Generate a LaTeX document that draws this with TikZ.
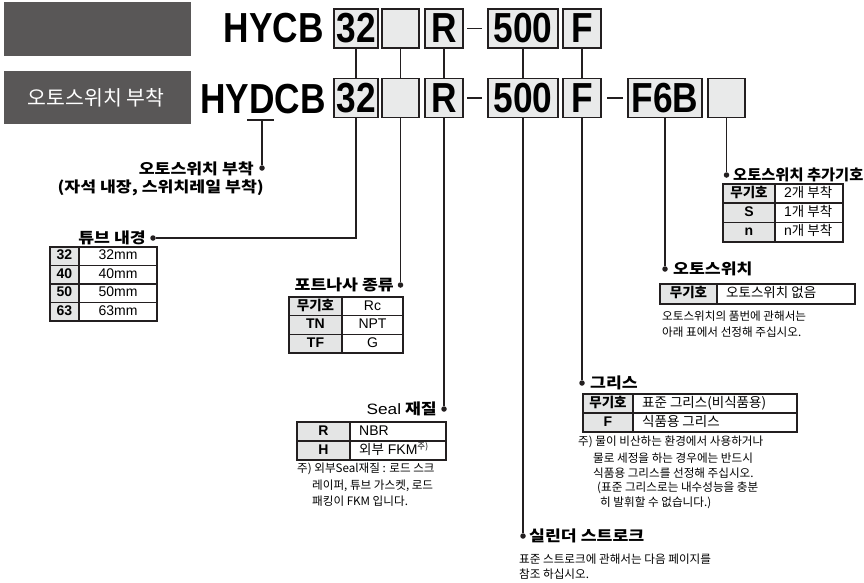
\documentclass[tikz,border=0pt]{standalone}
\usepackage{fontspec}
\setmainfont{Liberation Sans}
\newfontfamily\kr{Noto Sans CJK KR}
\definecolor{banner}{HTML}{595757}
\definecolor{boxgray}{HTML}{E9EAEA}
\definecolor{hdrgray}{HTML}{E4E5E5}
\definecolor{ink}{HTML}{231F20}
\newcommand\cond[1]{\scalebox{0.84}[1]{#1}}
\newcommand\hd[1]{\scalebox{1.15}[1]{#1}}
\newcommand\codef{\fontsize{42}{42}\selectfont\bfseries}
\newcommand\headf{\kr\fontsize{15}{16}\selectfont\bfseries}
\newcommand\notef{\kr\fontsize{11.6}{14}\selectfont}
\newcommand\cellf{\fontsize{14}{15}\selectfont}
\newcommand\cellk{\kr\fontsize{13.5}{15}\selectfont}
% table row: x1 xm x2 y1 y2 left right name ; right text centred
\newcommand\trowc[8]{%
  \fill[hdrgray] (#1,#4) rectangle (#2,#5);
  \draw[tline] (#1,#4) rectangle (#3,#5) (#2,#4) -- (#2,#5);
  \node[cell,font=\cellf\bfseries] (#8l) at ({(#1+#2)/2},{(#4+#5)/2}) {#6};
  \node[cell,font=\cellf] (#8r) at ({(#2+#3)/2},{(#4+#5)/2}) {#7};}
% right text left aligned
\newcommand\trowl[8]{%
  \fill[hdrgray] (#1,#4) rectangle (#2,#5);
  \draw[tline] (#1,#4) rectangle (#3,#5) (#2,#4) -- (#2,#5);
  \node[cell,font=\cellf\bfseries] (#8l) at ({(#1+#2)/2},{(#4+#5)/2}) {#6};
  \node[cell,font=\cellf,anchor=west] (#8r) at ({#2+9},{(#4+#5)/2}) {#7};}
\tikzset{
  codebox/.style={draw=ink,fill=boxgray,line width=1.2pt,inner sep=0pt,font=\codef,text=black},
  tline/.style={draw=ink,line width=1.1pt},
  conn/.style={draw=ink,line width=1.3pt},
  dot/.style={circle,fill=ink,inner sep=0pt,minimum size=5.5pt},
  cell/.style={inner sep=0pt,text height=10pt,text depth=2.7pt,text=black},
  head/.style={inner sep=0pt,font=\headf,text=black},
  note/.style={inner sep=0pt,font=\notef,text=black,anchor=west},
}
\begin{document}
\begin{tikzpicture}[x=1pt,y=-1pt]
\useasboundingbox (0,0) rectangle (864,582);
% banners
\fill[banner] (4,2) rectangle (191,56);
\fill[banner] (4,71) rectangle (191,124);
\node[inner sep=0pt,text=white,font=\kr\fontsize{20.5}{20}\selectfont] (ban) at (96,98) {오토스위치 부착};
% model code rows
\node[inner sep=0pt,anchor=base east,font=\codef] (m1) at (324,42) {\cond{HYCB}};
\node[inner sep=0pt,anchor=base east,font=\codef] (m2) at (326,113) {\cond{HYDCB}};
\foreach \r/\y in {a/28.5,b/98}{
  \node[codebox,minimum width=44pt,minimum height=39pt] (\r32) at (356,\y) {\raisebox{-1pt}{\cond{32}}};
  \node[codebox,minimum width=37pt,minimum height=39pt] (\r E) at (400.5,\y) {};
  \node[codebox,minimum width=38pt,minimum height=39pt] (\r R) at (444,\y) {\raisebox{-1pt}{\cond{R}}};
  \node[codebox,minimum width=70pt,minimum height=39pt] (\r500) at (523,\y) {\raisebox{-1pt}{\cond{500}}};
  \node[codebox,minimum width=38pt,minimum height=39pt] (\r F) at (582,\y) {\raisebox{-1pt}{\cond{F}}};
  \coordinate (\r d1) at (467,\y); \coordinate (\r d2) at (482,\y);
  \draw[line width=1.5pt,ink] (\r d1) -- (\r d2);
}
\node[codebox,minimum width=74pt,minimum height=39pt] (bF6B) at (665,98) {\raisebox{-1pt}{\cond{F6B}}};
\node[codebox,minimum width=37pt,minimum height=39pt] (bE2) at (726.5,98) {};
\coordinate (dd1) at (607,98); \coordinate (dd2) at (623,98);
\draw[line width=1.5pt,ink] (dd1) -- (dd2);
% links between rows
\foreach \n in {32,E,R,500,F}{ \draw[conn,line width=1.1pt] (a\n.south) -- (b\n.north); }
% D underline
\coordinate (ulA) at (247,120); \coordinate (ulB) at (274,120); \coordinate (ulM) at (262,120);
\draw[conn] (ulA) -- (ulB);
\node[dot] (pD) at (262,168) {};
\draw[conn] (ulM) -- (pD);
% dots
\node[dot] (p32) at (153,238) {};
\node[dot] (pE) at (400.5,285) {};
\node[dot] (pR) at (444,409) {};
\node[dot] (p500) at (523,536) {};
\node[dot] (pF) at (582,383) {};
\node[dot] (pF6B) at (665,269) {};
\node[dot] (pE2) at (726.5,175) {};
\draw[conn] (b32.south) |- (p32);
\draw[conn] (bE.south) -- (pE);
\draw[conn] (bR.south) -- (pR);
\draw[conn] (b500.south) -- (p500);
\draw[conn] (bF.south) -- (pF);
\draw[conn] (bF6B.south) -- (pF6B);
\draw[conn] (bE2.south) -- (pE2);
% auto switch mounting
\node[head,anchor=east] (hD1) at (254,169) {\hd{오토스위치 부착}};
\node[head,anchor=east] (hD2) at (264,188) {\hd{(자석 내장, 스위치레일 부착)}};
% tube bore
\node[head,anchor=east] (h32) at (146,238) {\hd{튜브 내경}};
\trowc{50}{79}{157}{247}{265.5}{32}{32mm}{t1}
\trowc{50}{79}{157}{265.5}{284}{40}{40mm}{t2}
\trowc{50}{79}{157}{284}{302.5}{50}{50mm}{t3}
\trowc{50}{79}{157}{302.5}{321}{63}{63mm}{t4}
% port thread
\node[head,anchor=east] (hE) at (394,285) {\hd{포트나사 종류}};
\trowc{289}{342}{403}{297}{315.7}{\cellk\bfseries 무기호}{Rc}{u1}
\trowc{289}{342}{403}{315.7}{334.3}{TN}{NPT}{u2}
\trowc{289}{342}{403}{334.3}{353}{TF}{G}{u3}
% seal
\node[head,anchor=east] (hR) at (437,409) {\hd{{\fontspec{Liberation Sans}\mdseries Seal} 재질}};
\trowl{297}{350}{446}{422}{441}{R}{NBR}{s1}
\trowl{297}{350}{446}{441}{460}{H}{{\cellk 외부} FKM\raisebox{4.5pt}{\kr\fontsize{8.5}{8}\selectfont 주)}}{s2}
\node[note] (nR1) at (297,469) {주) 외부Seal재질 : 로드 스크};
\node[note] (nR2) at (312,486) {레이퍼, 튜브 가스켓, 로드};
\node[note] (nR3) at (312,501) {패킹이 FKM 입니다.};
% stroke
\node[head,anchor=west] (h500) at (529,536) {\hd{실린더 스트로크}};
\node[note] (n5a) at (519,559) {표준 스트로크에 관해서는 다음 페이지를};
\node[note] (n5b) at (519,574) {참조 하십시오.};
% grease
\node[head,anchor=west] (hF) at (590,383) {\hd{그리스}};
\trowl{583}{633}{797}{394}{413}{\cellk\bfseries 무기호}{\cellk 표준 그리스(비식품용)}{g1}
\trowl{583}{633}{797}{413}{432}{F}{\cellk 식품용 그리스}{g2}
\node[note] (nF1) at (578,442) {주) 물이 비산하는 환경에서 사용하거나};
\node[note] (nF2) at (593,458) {물로 세정을 하는 경우에는 반드시};
\node[note] (nF3) at (593,473) {식품용 그리스를 선정해 주십시오.};
\node[note] (nF4) at (597,488) {(표준 그리스로는 내수성능을 충분};
\node[note] (nF5) at (600,503) {히 발휘할 수 없습니다.)};
% auto switch
\node[head,anchor=west] (hF6B) at (673,269) {\hd{오토스위치}};
\trowl{660}{717}{855}{284}{304}{\cellk\bfseries 무기호}{\cellk 오토스위치 없음}{w1}
\node[note] (nW1) at (662,316) {오토스위치의 품번에 관해서는};
\node[note] (nW2) at (662,332) {아래 표에서 선정해 주십시오.};
% number of switches
\node[head,anchor=west] (hE2) at (733,175) {\scalebox{1.02}[1]{오토스위치 추가기호}};
\trowl{723}{775}{843}{184}{203}{\cellk\bfseries 무기호}{2{\cellk 개 부착}}{k1}
\trowl{723}{775}{843}{203}{222.5}{S}{1{\cellk 개 부착}}{k2}
\trowl{723}{775}{843}{222.5}{242}{n}{n{\cellk 개 부착}}{k3}
\end{tikzpicture}
\end{document}
